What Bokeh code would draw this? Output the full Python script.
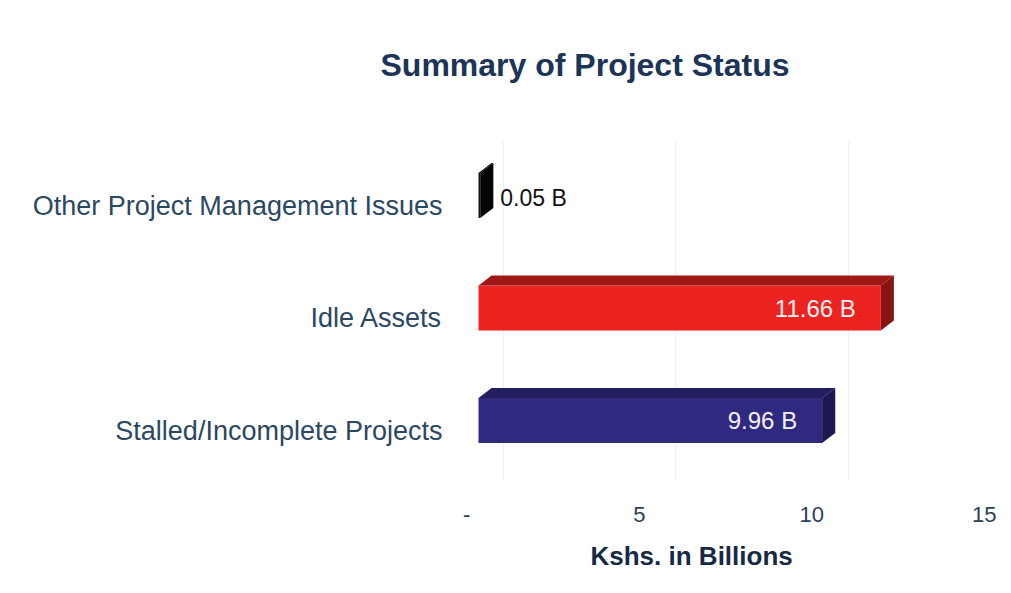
from bokeh.plotting import figure
from bokeh.models import (Range1d, LinearAxis, FixedTicker, Title, Grid, ColumnDataSource)
from bokeh.core.properties import value
from bokeh.embed import file_html
from bokeh.resources import INLINE

# ---- data ----
categories = ["Stalled/Incomplete Projects", "Idle Assets", "Other Project Management Issues"]
amounts = [9.96, 11.66, 0.05]
bar_labels = ["9.96 B", "11.66 B", "0.05 B"]
x_ticks = [0, 5, 10, 15]
x_tick_labels = ["-", "5", "10", "15"]

front_colors = ["#2f2a80", "#ec2320", "#141414"]
top_colors = ["#221e60", "#a01816", "#000000"]
side_colors = ["#1c1950", "#861412", "#050505"]

FONT = "Liberation Sans"

# ---- geometry (styles) ----
HALF = 0.2      # half bar thickness (y units)
DX = 0.38       # 3D depth in x units
DY = 0.09       # 3D depth in y units

x0, x1 = -0.609, 15.13
y0, y1 = -0.533, 2.489

p = figure(width=1005, height=588, output_backend="svg", toolbar_location=None,
           x_range=Range1d(x0, x1), y_range=Range1d(y0, y1),
           x_axis_type=None, y_axis_type=None,
           min_border_left=457, min_border_right=5,
           min_border_top=140, min_border_bottom=108)
p.outline_line_color = None
p.background_fill_color = "white"
p.border_fill_color = "white"
p.xgrid.visible = False
p.ygrid.visible = False

# shifted ranges for perspective-offset labels / back-wall grid
p.extra_x_ranges = {"lab": Range1d(x0 + 0.34, x1 + 0.34),
                    "wall": Range1d(x0 - 0.72, x1 - 0.72)}
p.extra_y_ranges = {"laby": Range1d(y0 + 0.09, y1 + 0.09)}

wall_grid = Grid(dimension=0, ticker=FixedTicker(ticks=x_ticks[:3]), x_range_name="wall",
                 grid_line_color="#eef0f5", grid_line_width=1)
p.add_layout(wall_grid)

ys = list(range(len(categories)))

# front faces
p.quad(left=[0] * len(amounts), right=amounts,
       bottom=[y - HALF for y in ys], top=[y + HALF for y in ys],
       fill_color=front_colors, line_color=None)

# top faces
top_xs = [[0, v, v + DX, DX] for v in amounts]
top_ys = [[y + HALF, y + HALF, y + HALF + DY, y + HALF + DY] for y in ys]
p.patches(top_xs, top_ys, fill_color=top_colors, line_color=None)

# side faces
side_xs = [[v, v + DX, v + DX, v] for v in amounts]
side_ys = [[y - HALF, y - HALF + DY, y + HALF + DY, y + HALF] for y in ys]
p.patches(side_xs, side_ys, fill_color=side_colors, line_color=None)

# value labels
inside = [v >= 1 for v in amounts]
src_in = ColumnDataSource(dict(x=[v for v, i in zip(amounts, inside) if i],
                               y=[y for y, i in zip(ys, inside) if i],
                               t=[t for t, i in zip(bar_labels, inside) if i]))
src_out = ColumnDataSource(dict(x=[v for v, i in zip(amounts, inside) if not i],
                                y=[y for y, i in zip(ys, inside) if not i],
                                t=[t for t, i in zip(bar_labels, inside) if not i]))
p.text(x="x", y="y", text="t", source=src_in, x_offset=-25, text_align="right",
       text_baseline="middle", text_color="#f4f0f4", text_font=value(FONT),
       text_font_size="24px")
p.text(x="x", y="y", text="t", source=src_out, x_offset=20, y_offset=2, text_align="left",
       text_baseline="middle", text_color="#111111", text_font=value(FONT),
       text_font_size="23px")

# x axis (tick labels)
xaxis = LinearAxis(x_range_name="lab", ticker=FixedTicker(ticks=x_ticks),
                   major_label_overrides={t: l for t, l in zip(x_ticks, x_tick_labels)})
xaxis.axis_line_color = None
xaxis.major_tick_line_color = None
xaxis.minor_tick_line_color = None
xaxis.major_tick_out = 0
xaxis.major_label_standoff = 26
xaxis.major_label_text_font = FONT
xaxis.major_label_text_font_size = "22px"
xaxis.major_label_text_color = "#2b3f58"
p.add_layout(xaxis, "below")

# axis title
xtitle = Title(text="Kshs. in Billions", align="left", offset=133, standoff=28,
               text_font=FONT, text_font_size="26px", text_font_style="bold",
               text_color="#172a44")
p.add_layout(xtitle, "below")

# y axis (category labels)
yaxis = LinearAxis(y_range_name="laby", ticker=FixedTicker(ticks=ys),
                   major_label_overrides={y: c for y, c in zip(ys, categories)})
yaxis.axis_line_color = None
yaxis.major_tick_line_color = None
yaxis.minor_tick_line_color = None
yaxis.major_tick_out = 0
yaxis.major_label_standoff = 15
yaxis.major_label_text_font = FONT
yaxis.major_label_text_font_size = "27px"
yaxis.major_label_text_color = "#2b4862"
p.add_layout(yaxis, "left")

# spacer between frame and chart title, then the chart title
spacer = Title(text=" ", text_font_size="1px", standoff=50)
p.add_layout(spacer, "above")
title = Title(text="Summary of Project Status", align="left", offset=-77, standoff=10,
              text_font=FONT, text_font_size="32px", text_font_style="bold",
              text_color="#1b3458")
p.add_layout(title, "above")

open("out.html", "w").write(file_html(p, INLINE))
